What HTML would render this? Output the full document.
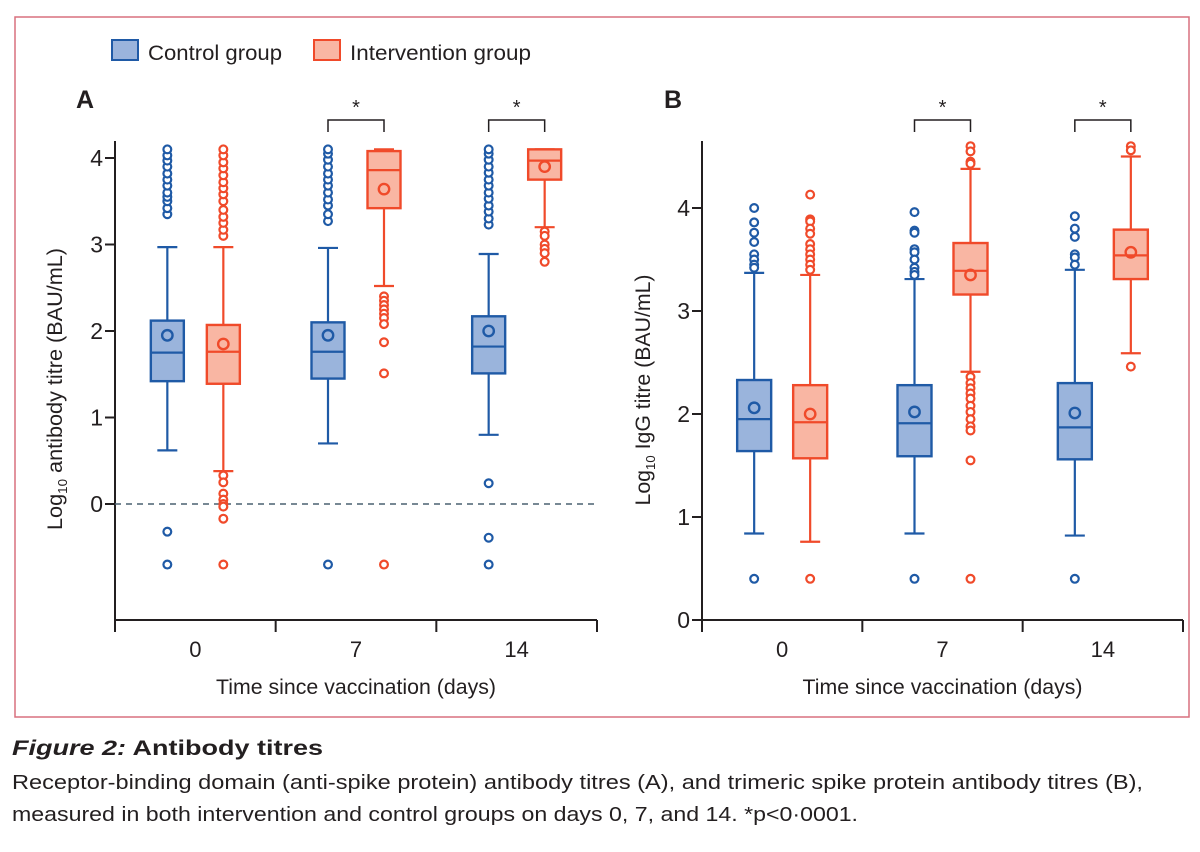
<!DOCTYPE html>
<html><head><meta charset="utf-8"><style>
body{margin:0;background:#fff;width:1200px;height:847px;overflow:hidden;font-family:"Liberation Sans",sans-serif;}
svg text{font-family:"Liberation Sans",sans-serif;fill:#231f20;}
</style></head><body>
<svg id="chart" width="1200" height="847">
<rect x="15" y="17" width="1174" height="700" fill="none" stroke="#d9707f" stroke-width="1.5"/>
<g>
<rect x="112" y="40" width="26" height="20" fill="#9ab4dc" stroke="#1f5aa6" stroke-width="2"/>
<text x="148" y="60" font-size="21" textLength="134" lengthAdjust="spacingAndGlyphs">Control group</text>
<rect x="314" y="40" width="26" height="20" fill="#f9b6a3" stroke="#f04a2a" stroke-width="2"/>
<text x="350" y="60" font-size="21" textLength="181" lengthAdjust="spacingAndGlyphs">Intervention group</text>
</g>
<text x="76" y="108" font-size="25" font-weight="bold">A</text>
<text x="664" y="108" font-size="25" font-weight="bold">B</text>
<g id="pa"></g><g id="pb"></g>
<text x="12" y="755" font-size="21" font-weight="bold" textLength="311" lengthAdjust="spacingAndGlyphs"><tspan font-style="italic">Figure 2:</tspan> Antibody titres</text>
<text x="12" y="789" font-size="20" textLength="1131" lengthAdjust="spacingAndGlyphs">Receptor-binding domain (anti-spike protein) antibody titres (A), and trimeric spike protein antibody titres (B),</text>
<text x="12" y="821" font-size="20" textLength="846" lengthAdjust="spacingAndGlyphs">measured in both intervention and control groups on days 0, 7, and 14. *p&lt;0·0001.</text>
</svg>
<script>
const categories=["0","7","14"];
const groups=["control","intervention"];
// Panel A: [whiskerLow, Q1, median, Q3, whiskerHigh, mean]
const statsAControl=[[0.62,1.42,1.75,2.12,2.97,1.95],[0.70,1.45,1.76,2.10,2.96,1.95],[0.80,1.51,1.82,2.17,2.89,2.00]];
const statsAInterv=[[0.38,1.39,1.76,2.07,2.97,1.85],[2.52,3.42,3.86,4.08,4.10,3.64],[3.20,3.75,3.97,4.10,4.10,3.90]];
const outAControl=[[3.35,3.42,3.5,3.55,3.6,3.68,3.75,3.82,3.9,3.97,4.03,4.1,-0.32,-0.7],[3.27,3.35,3.45,3.52,3.6,3.68,3.75,3.82,3.9,3.98,4.05,4.1,-0.7],[3.23,3.3,3.38,3.45,3.53,3.6,3.68,3.75,3.83,3.9,3.98,4.05,4.1,0.24,-0.39,-0.7]];
const outAInterv=[[3.1,3.17,3.25,3.32,3.4,3.5,3.58,3.65,3.72,3.8,3.88,3.95,4.03,4.1,0.33,0.25,0.12,0.05,0,-0.03,-0.17,-0.7],[2.4,2.35,2.3,2.25,2.2,2.15,2.08,1.87,1.51,-0.7],[3.15,3.1,3.0,2.95,2.9,2.8]];
const statsBControl=[[0.84,1.64,1.95,2.33,3.37,2.06],[0.84,1.59,1.91,2.28,3.31,2.02],[0.82,1.56,1.87,2.30,3.40,2.01]];
const statsBInterv=[[0.76,1.57,1.92,2.28,3.35,2.00],[2.41,3.16,3.39,3.66,4.38,3.35],[2.59,3.31,3.54,3.79,4.50,3.57]];
const outBControl=[[4.0,3.86,3.76,3.67,3.55,3.5,3.45,3.42,0.4],[3.96,3.78,3.76,3.6,3.57,3.5,3.42,3.38,3.35,0.4],[3.92,3.8,3.72,3.55,3.52,3.45,0.4]];
const outBInterv=[[4.13,3.89,3.87,3.8,3.75,3.65,3.6,3.55,3.5,3.45,3.4,0.4],[4.6,4.55,4.45,4.43,2.36,2.3,2.25,2.2,2.15,2.08,2.02,1.95,1.88,1.84,1.55,0.4],[4.6,4.56,2.46]];
const ticksA=[0,1,2,3,4];
const ticksB=[0,1,2,3,4];
const NS="http://www.w3.org/2000/svg";
const COL={control:{s:"#1f5aa6",f:"#9ab4dc"},intervention:{s:"#f04a2a",f:"#f9b6a3"}};
function mk(p,t,a){const e=document.createElementNS(NS,t);for(const k in a)e.setAttribute(k,a[k]);p.appendChild(e);return e;}
function panel(g,cfg){
  const y=v=>cfg.y0-v*cfg.k;
  const x0=cfg.x0,x1=cfg.x1,bw=(x1-x0)/3;
  const cx=i=>x0+bw*(i+0.5);
  const ax=mk(g,"path",{d:`M${x0} ${cfg.top}V${cfg.bot}H${x1}`,fill:"none",stroke:"#231f20","stroke-width":2});
  
  
  for(let i=0;i<=3;i++){const t=mk(g,"line",{x1:x0+bw*i,x2:x0+bw*i,y1:cfg.bot,y2:cfg.bot+12,stroke:"#231f20","stroke-width":2});
    
    }
  categories.forEach((c,i)=>{const t=mk(g,"text",{x:cx(i),y:cfg.bot+37,"font-size":22,"text-anchor":"middle"});t.textContent=c;
    
    });
  cfg.ticks.forEach(v=>{const t=mk(g,"line",{x1:x0-10,x2:x0,y1:y(v),y2:y(v),stroke:"#231f20","stroke-width":2});
    
    
    const l=mk(g,"text",{x:x0-12,y:y(v)+8,"font-size":23,"text-anchor":"end"});l.textContent=v;
    
    });
  const xt=mk(g,"text",{x:(x0+x1)/2,y:cfg.bot+74,"font-size":21,"text-anchor":"middle",textLength:280,lengthAdjust:"spacingAndGlyphs"});xt.textContent="Time since vaccination (days)";
  
  
  const yt=mk(g,"text",{transform:`translate(${cfg.ytx},${cfg.yty}) rotate(-90)`,"font-size":21,"text-anchor":"middle",textLength:cfg.ylen,lengthAdjust:"spacingAndGlyphs"});
  yt.innerHTML=`Log<tspan font-size="13" dy="5">10</tspan><tspan dy="-5"> ${cfg.ylab}</tspan>`;
  
  
  if(cfg.dash){const d=mk(g,"line",{x1:x0,x2:x1,y1:y(0),y2:y(0),stroke:"#4a6070","stroke-width":1.5,"stroke-dasharray":"6,5"});
    
    }
  const sets={control:[cfg.sc,cfg.oc],intervention:[cfg.si,cfg.oi]};
  categories.forEach((c,i)=>{
    groups.forEach((gname,j)=>{
      const s=sets[gname][0][i],o=sets[gname][1][i],col=COL[gname];
      const c0=cx(i)+(j?cfg.off:-cfg.off),w=cfg.w;
      const bg=mk(g,"g",{});
      
      
      mk(bg,"line",{x1:c0,x2:c0,y1:y(s[0]),y2:y(s[4]),stroke:col.s,"stroke-width":2.2});
      mk(bg,"line",{x1:c0-10,x2:c0+10,y1:y(s[0]),y2:y(s[0]),stroke:col.s,"stroke-width":2.2});
      mk(bg,"line",{x1:c0-10,x2:c0+10,y1:y(s[4]),y2:y(s[4]),stroke:col.s,"stroke-width":2.2});
      mk(bg,"rect",{x:c0-w/2,y:y(s[3]),width:w,height:y(s[1])-y(s[3]),fill:col.f,stroke:col.s,"stroke-width":2.4});
      mk(bg,"line",{x1:c0-w/2,x2:c0+w/2,y1:y(s[2]),y2:y(s[2]),stroke:col.s,"stroke-width":2.2});
      mk(bg,"circle",{cx:c0,cy:y(s[5]),r:5.2,fill:"none",stroke:col.s,"stroke-width":2.4});
      o.forEach(v=>{const p=mk(g,"circle",{cx:c0,cy:y(v),r:3.9,fill:"#fff",stroke:col.s,"stroke-width":2.2});
        
        });
    });
    if(i>0){const a=cx(i)-cfg.off,b=cx(i)+cfg.off;
      const br=mk(g,"path",{d:`M${a} 132V120H${b}V132`,fill:"none",stroke:"#231f20","stroke-width":1.5});
      
      
      const st=mk(g,"text",{x:(a+b)/2,y:114,"font-size":20,"text-anchor":"middle"});st.textContent="*";
      
      }
  });
}
panel(document.getElementById("pa"),{id:"a",x0:115,x1:597,top:141,bot:620,y0:504,k:86.5,ticks:ticksA,ytx:62,yty:389,ylen:282,ylab:"antibody titre (BAU/mL)",dash:true,off:28,w:33,sc:statsAControl,si:statsAInterv,oc:outAControl,oi:outAInterv});
panel(document.getElementById("pb"),{id:"b",x0:702,x1:1183,top:141,bot:620,y0:620,k:103,ticks:ticksB,ytx:650,yty:390,ylen:231,ylab:"IgG titre (BAU/mL)",dash:false,off:28,w:34,sc:statsBControl,si:statsBInterv,oc:outBControl,oi:outBInterv});
</script>
</body></html>
